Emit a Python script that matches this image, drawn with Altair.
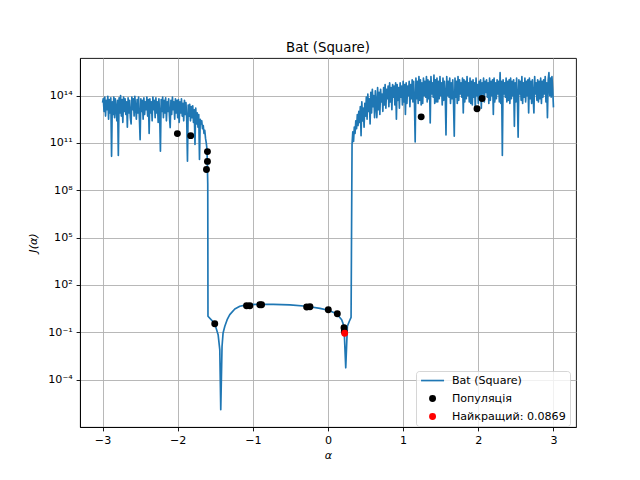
import altair as alt
import numpy as np
import pandas as pd

# log10 of J(alpha)
# left noisy branch, sampled every 0.01 from alpha=-3.0 to -1.6
LEFT_START, LEFT_STOP = -3.0, -1.6
LEFT_LOGJ = [
    13.55, 13.8, 13.0, 13.9, 12.7, 13.7, 13.1, 13.95, 12.5, 13.75,
    12.9, 13.85, 10.15, 13.6, 12.8, 13.9, 12.6, 13.8, 13.2, 12.4,
    13.7, 10.2, 13.85, 12.9, 14.0, 12.7, 13.75, 12.3, 13.9, 13.0,
    13.8, 12.8, 13.6, 12.0, 13.85, 12.9, 13.7, 12.6, 12.2, 13.9,
    13.1, 13.8, 12.7, 13.95, 13.2, 12.5, 13.75, 12.9, 13.9, 12.6,
    11.2, 13.8, 13.0, 13.7, 12.5, 13.85, 12.8, 13.6, 13.1, 13.9,
    12.7, 13.75, 11.6, 13.8, 12.9, 13.6, 12.4, 13.9, 13.1, 13.7,
    12.6, 13.85, 12.9, 13.6, 12.3, 13.8, 12.8, 10.47, 13.75, 13.0,
    13.9, 12.6, 13.7, 12.9, 13.85, 12.4, 13.6, 13.0, 13.8, 12.7,
    11.97, 13.7, 12.8, 13.9, 13.1, 13.6, 12.5, 13.8, 12.9, 13.7,
    12.6, 13.75, 12.3, 13.6, 12.9, 13.8, 12.7, 13.5, 12.4, 13.7,
    12.8, 13.55, 12.5, 9.84, 13.4, 12.7, 13.45, 12.4, 13.3, 12.6,
    13.35, 12.3, 13.1, 10.9, 13.2, 12.2, 12.9, 12.0, 12.8, 9.95,
    12.5, 12.2, 12.4, 11.9, 12.1, 11.6, 11.8, 11.3, 11.0, 10.6,
    8.4,
]

# smooth middle part
MID_ALPHA = [
    -1.597, -1.507, -1.462, -1.44, -1.427, -1.41, -1.396, -1.373, -1.342,
    -1.307, -1.24, -1.173, -1.084, -0.951, -0.729, -0.507, -0.284, -0.107,
    0.004, 0.116, 0.182, 0.213, 0.236, 0.258, 0.284, 0.307,
]
MID_LOGJ = [
    0.02, -0.45, -1.15, -2.1, -5.9, -1.9, -1.04, -0.62, -0.2,
    0.12, 0.48, 0.65, 0.74, 0.77, 0.77, 0.74, 0.65, 0.52,
    0.40, 0.18, -0.2, -0.62, -3.25, -0.62, -0.3, -0.05,
]

# right noisy branch, sampled every 0.01 from alpha=0.32 to 3.0
RIGHT_START, RIGHT_STOP = 0.32, 3.0
RIGHT_LOGJ = [
    10.9, 11.7, 11.1, 12.0, 11.6, 12.4, 11.9, 12.8, 12.1, 13.0,
    12.3, 13.3, 11.46, 13.6, 12.4, 13.2, 12.0, 13.5, 12.7, 13.9,
    12.5, 14.1, 13.0, 13.8, 12.2, 14.2, 12.9, 14.4, 13.3, 14.0,
    12.6, 14.3, 13.4, 12.6, 14.5, 13.1, 14.2, 12.8, 14.4, 13.6,
    14.1, 13.0, 14.5, 13.4, 14.7, 13.2, 14.4, 13.8, 14.6, 13.3,
    14.8, 13.6, 14.5, 13.1, 14.7, 13.9, 14.6, 13.4, 14.8, 12.5,
    14.7, 13.7, 14.5, 13.2, 14.8, 13.9, 14.6, 13.4, 14.9, 13.6,
    14.7, 12.8, 14.8, 13.5, 14.6, 14.0, 14.9, 13.3, 14.7, 13.8,
    15.0, 13.6, 14.9, 13.7, 11.06, 15.1, 13.8, 14.9, 13.5, 15.2,
    13.7, 15.0, 13.4, 14.8, 13.5, 15.1, 14.0, 14.9, 13.9, 15.2,
    13.6, 15.0, 13.8, 14.9, 12.27, 15.2, 14.1, 14.8, 13.9, 15.3,
    13.5, 15.0, 13.6, 15.1, 13.6, 14.9, 13.8, 15.2, 14.0, 14.8,
    13.4, 15.1, 13.7, 14.9, 14.1, 11.5, 15.2, 14.0, 14.9, 13.9,
    15.1, 13.5, 14.8, 13.8, 15.0, 13.6, 11.42, 15.1, 13.9, 14.9,
    13.5, 15.2, 13.7, 15.0, 14.1, 14.8, 13.9, 15.1, 12.9, 15.0,
    13.6, 14.9, 13.8, 15.2, 14.0, 14.8, 13.6, 15.1, 13.5, 14.9,
    13.4, 15.0, 13.9, 14.8, 13.1, 15.1, 14.0, 14.7, 13.5, 14.9,
    13.8, 15.0, 13.2, 14.8, 14.1, 15.1, 13.6, 14.9, 14.2, 15.0,
    13.9, 14.8, 13.5, 15.1, 13.7, 14.9, 14.0, 15.0, 12.8, 15.1,
    13.6, 14.8, 13.8, 15.0, 14.1, 14.9, 13.6, 15.45, 13.5, 14.9,
    10.2, 15.0, 14.1, 14.8, 13.9, 15.1, 13.6, 14.9, 13.7, 15.0,
    13.5, 15.1, 13.8, 14.9, 14.0, 15.0, 12.05, 14.8, 13.6, 15.1,
    13.9, 11.36, 15.0, 14.1, 14.9, 13.7, 15.2, 13.5, 14.8, 13.9,
    15.1, 13.6, 14.9, 14.0, 15.0, 12.9, 15.1, 13.8, 14.9, 13.5,
    15.0, 13.9, 12.9, 15.2, 14.1, 14.8, 13.7, 15.0, 13.6, 14.9,
    13.8, 15.1, 13.5, 14.9, 13.9, 15.0, 14.1, 15.2, 13.6, 14.8,
    12.6, 15.0, 15.45, 14.0, 15.1, 13.9, 15.2, 14.4, 13.25,
]

# population
POP_ALPHA = [
    -2.004, -1.827, -1.604, -1.604, -1.617, -1.507, -1.084, -1.04, -0.907,
    -0.884, -0.284, -0.24, 0.004, 0.124, 0.213, 0.217, 1.24, 1.983, 2.05,
]
POP_LOGJ = [
    11.59, 11.46, 10.45, 9.83, 9.31, -0.46, 0.68, 0.68, 0.75,
    0.75, 0.60, 0.62, 0.43, 0.18, -0.71, -0.95, 12.65, 13.16, 13.81,
]
BEST_ALPHA = 0.222
BEST_J = 0.0869

SERIES = ["Bat (Square)", "Популяція", f"Найкращий: {BEST_J}"]
SERIES_COLORS = ["#1f77b4", "#000000", "#ff0000"]
X_TICKS = [-3, -2, -1, 0, 1, 2, 3]
Y_TICK_EXPS = [-4, -1, 2, 5, 8, 11, 14]
Y_TICK_LABELS = ["10⁻⁴", "10⁻¹", "10²", "10⁵", "10⁸", "10¹¹", "10¹⁴"]

FONT = "DejaVu Sans"
LINE_PATH = "M-3.32,-0.24H3.32V0.24H-3.32Z"

alpha = np.concatenate([
    np.linspace(LEFT_START, LEFT_STOP, len(LEFT_LOGJ)),
    MID_ALPHA,
    np.linspace(RIGHT_START, RIGHT_STOP, len(RIGHT_LOGJ)),
])
logj = np.array(LEFT_LOGJ + MID_LOGJ + RIGHT_LOGJ)
curve = pd.DataFrame({"alpha": alpha, "J": 10.0 ** logj})

points = pd.DataFrame({
    "alpha": POP_ALPHA + [BEST_ALPHA],
    "J": [10.0 ** v for v in POP_LOGJ] + [BEST_J],
    "series": [SERIES[1]] * len(POP_ALPHA) + [SERIES[2]],
})

label_expr = " : ".join(
    f"round(log(datum.value) / LN10) == {e} ? '{lab}'"
    for e, lab in zip(Y_TICK_EXPS, Y_TICK_LABELS)
) + " : ''"

axis_style = dict(
    grid=True,
    gridColor="#b0b0b0",
    gridWidth=0.9,
    domainColor="black",
    domainWidth=0.9,
    tickColor="black",
    tickWidth=0.9,
    tickSize=3.9,
    labelPadding=3.9,
    labelColor="black",
    labelFont=FONT,
    labelFontSize=11.1,
    titleColor="black",
    titleFont=FONT,
    titleFontSize=11.1,
    titleFontWeight="normal",
    titleFontStyle="italic",
)

x_enc = alt.X(
    "alpha:Q",
    scale=alt.Scale(domain=[-3.3, 3.3], nice=False, zero=False),
    axis=alt.Axis(values=X_TICKS, format="d", title="α", titlePadding=4, **axis_style),
)
y_enc = alt.Y(
    "J:Q",
    scale=alt.Scale(type="log", domain=[1e-7, 10 ** 16.38], nice=False),
    axis=alt.Axis(
        values=[10.0 ** e for e in Y_TICK_EXPS],
        labelExpr=label_expr,
        title="J(α)",
        titlePadding=9,
        **axis_style,
    ),
)

legend = alt.Legend(
    title=None,
    orient="none",
    legendX=336,
    legendY=313,
    fillColor="rgba(255,255,255,0.8)",
    strokeColor="rgba(204,204,204,0.8)",
    cornerRadius=3,
    padding=4,
    symbolSize=48,
    symbolStrokeWidth=0,
    symbolOffset=7,
    labelOffset=13.8,
    labelFont=FONT,
    labelFontSize=11.1,
    labelColor="black",
    labelLimit=0,
    rowPadding=6,
)

line = alt.Chart(curve).mark_line(
    color=SERIES_COLORS[0], strokeWidth=1.67, strokeJoin="round"
).encode(x=x_enc, y=y_enc)

dots = alt.Chart(points).mark_point(
    filled=True, size=48, opacity=1, strokeWidth=0
).encode(
    x=x_enc,
    y=y_enc,
    color=alt.Color(
        "series:N",
        scale=alt.Scale(domain=SERIES, range=SERIES_COLORS),
        legend=legend,
    ),
    shape=alt.Shape(
        "series:N",
        scale=alt.Scale(domain=SERIES, range=[LINE_PATH, "circle", "circle"]),
        legend=legend,
    ),
)

chart = (
    (line + dots)
    .properties(
        width=496,
        height=369,
        padding={"left": 72, "top": 50, "right": 56, "bottom": 45},
        autosize=alt.AutoSizeParams(type="none"),
        title=alt.TitleParams(
            "Bat (Square)",
            font=FONT,
            fontSize=13.3,
            fontWeight="normal",
            color="black",
            offset=-7,
            baseline="alphabetic",
        ),
    )
    .configure_view(stroke="black", strokeWidth=0.9)
)

chart.save("out.html", embed_options={"renderer": "svg", "actions": False})
